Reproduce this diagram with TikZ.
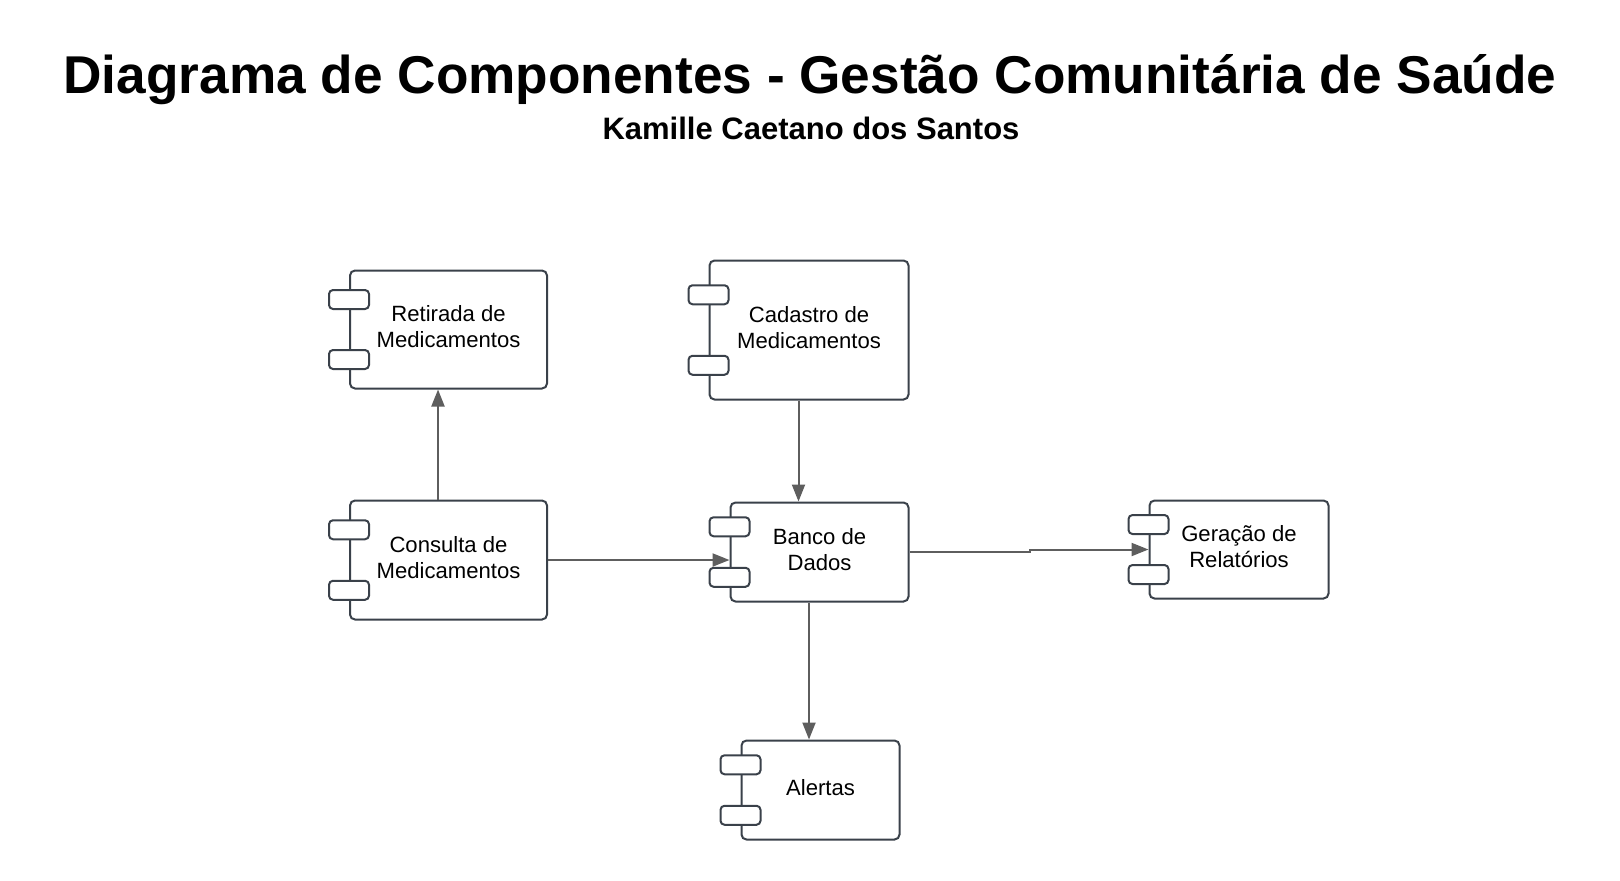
\documentclass[tikz,border=0pt]{standalone}
\usepackage{fontspec}
\setmainfont{Liberation Sans}
\usetikzlibrary{arrows.meta,calc}
\definecolor{bordo}{HTML}{3A414A}
\definecolor{cinza}{HTML}{5E5E5E}
\begin{document}
\begin{tikzpicture}[x=0.5pt,y=-0.5pt]
	\tikzset{componente/.style={rectangle, draw=bordo, line width=1pt, rounded corners=2.5pt, fill=white, inner sep=0pt, text depth=2.6pt, align=center, font=\fontsize{11.05}{13}\selectfont},
		porta/.style={rectangle, draw=bordo, line width=1pt, rounded corners=2pt, fill=white, minimum width=20pt, minimum height=9.5pt, inner sep=0pt},
		seta/.style={-{Triangle[length=8.5pt,width=6.5pt]}, color=cinza, line width=1pt}};
	\useasboundingbox (0,0) rectangle (1620,880);
	\node[anchor=base, font=\fontsize{26.6}{32}\selectfont\bfseries] (titulo) at (810,93) {Diagrama de Componentes - Gestão Comunitária de Saúde};
	\node[anchor=base, font=\fontsize{15.5}{18}\selectfont\bfseries] (autora) at (811,139) {Kamille Caetano dos Santos};

	\node[componente, minimum width=98.5pt, minimum height=59pt] (retirada) at (448.5,329.5) {Retirada de\\Medicamentos};
	\node[componente, minimum width=99.5pt, minimum height=69.5pt] (cadastro) at (809,330) {Cadastro de\\Medicamentos};
	\node[componente, minimum width=98.5pt, minimum height=59.5pt] (consulta) at (448.5,560) {Consulta de\\Medicamentos};
	\node[componente, minimum width=89pt, minimum height=49.5pt] (banco) at (819.5,552) {Banco de\\Dados};
	\node[componente, minimum width=89.5pt, minimum height=49pt] (geracao) at (1239,549.5) {Geração de\\Relatórios};
	\node[componente, minimum width=79pt, minimum height=49.5pt] (alertas) at (820.5,790) {Alertas};

	\foreach \n in {retirada,cadastro,consulta,banco,geracao,alertas}{
		\node[porta] at ($(\n.north west)!0.25!(\n.south west)$) {};
		\node[porta] at ($(\n.north west)!0.75!(\n.south west)$) {};
	}

	\draw[seta] ([xshift=-5.25pt]consulta.north) -- ([xshift=-5.25pt]retirada.south);
	\draw[seta] ([xshift=-5.25pt]cadastro.south) -- ([xshift=-5.25pt]cadastro.south |- banco.north);
	\draw[seta] (consulta.east) -- (consulta.east -| banco.west);
	\draw[seta] (banco.east) -- ++(120,0) |- (geracao.west);
	\draw[seta] ([xshift=-5.25pt]banco.south) -- ([xshift=-5.25pt]banco.south |- alertas.north);
\end{tikzpicture}
\end{document}
